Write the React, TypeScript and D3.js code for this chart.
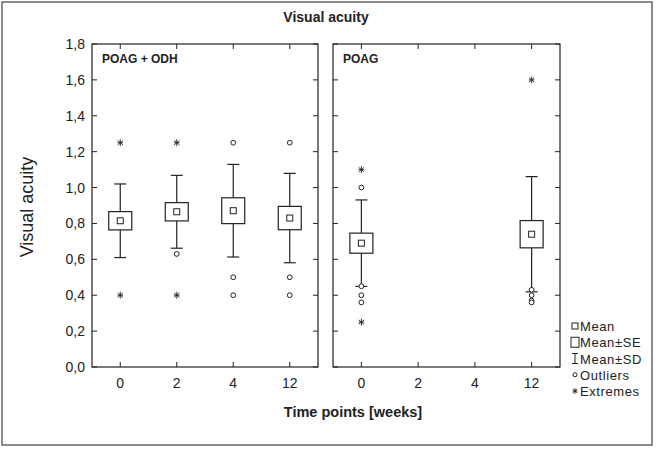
import React from 'react';
import * as d3 from 'd3';

// time points (weeks)
const categories = ['0', '2', '4', '12'];
const yTicks = [0, 0.2, 0.4, 0.6, 0.8, 1.0, 1.2, 1.4, 1.6, 1.8];

// POAG + ODH
const odhMean = [0.815, 0.865, 0.871, 0.83];
const odhSE = [0.051, 0.051, 0.072, 0.065];
const odhSD = [0.205, 0.203, 0.258, 0.249];
const odhOutliers = [[], [0.63], [1.25, 0.5, 0.4], [1.25, 0.5, 0.4]];
const odhExtremes = [[1.25, 0.4], [1.25, 0.4], [], []];

// POAG (only weeks 0 and 12 measured)
const poagMean = [0.69, null, null, 0.74];
const poagSE = [0.056, null, null, 0.076];
const poagSD = [0.241, null, null, 0.321];
const poagOutliers = [[1.0, 0.45, 0.4, 0.36], [], [], [0.43, 0.4, 0.37, 0.36]];
const poagExtremes = [[1.1, 0.25], [], [], [1.6]];

const legendItems = ['Mean', 'Mean\u00b1SE', 'Mean\u00b1SD', 'Outliers', 'Extremes'];

const W = 660, H = 450;
const top = 44, bottom = 367;
const font = '"Liberation Sans", Arial, sans-serif';
const ink = '#222';

const y = d3.scaleLinear().domain([0, 1.8]).range([bottom, top]);

// "extreme" marker: vertical bar crossed by an x
function Star({ cx, cy, r = 3.5 }: { cx: number; cy: number; r?: number }) {
  const arms = [90, 40, -40].map(a => {
    const t = (a * Math.PI) / 180;
    return [Math.cos(t) * r, Math.sin(t) * r];
  });
  return (
    <g stroke={ink} strokeWidth={0.9}>
      {arms.map(([dx, dy], i) => (
        <line key={i} x1={cx - dx} y1={cy - dy} x2={cx + dx} y2={cy + dy} />
      ))}
      <line x1={cx - r * 0.8} x2={cx + r * 0.8} y1={cy} y2={cy} />
    </g>
  );
}

function Panel(props: {
  x0: number; x1: number; label: string;
  mean: (number | null)[]; se: (number | null)[]; sd: (number | null)[];
  outliers: number[][]; extremes: number[][]; leftLabels: boolean;
}) {
  const { x0, x1, label, mean, se, sd, outliers, extremes, leftLabels } = props;
  const x = d3.scaleBand().domain(categories).range([x0, x1]);
  const cx = (c: string) => (x(c) as number) + x.bandwidth() / 2;
  const tk = 5;
  const boxW = 23, capW = 12, ms = 6;

  return (
    <g>
      <rect x={x0} y={top} width={x1 - x0} height={bottom - top} fill="none" stroke={ink} strokeWidth={1.2} />
      {yTicks.map(t => (
        <g key={t}>
          <line x1={x0} x2={x0 + tk} y1={y(t)} y2={y(t)} stroke={ink} />
          <line x1={x1} x2={x1 - tk} y1={y(t)} y2={y(t)} stroke={ink} />
          {leftLabels && (
            <text x={x0 - 7} y={y(t) + 5} textAnchor="end" fontSize={14} fontFamily={font} fill={ink}>
              {d3.format('.1f')(t).replace('.', ',')}
            </text>
          )}
        </g>
      ))}
      {categories.map(c => (
        <g key={c}>
          <line x1={cx(c)} x2={cx(c)} y1={bottom} y2={bottom - tk} stroke={ink} />
          <line x1={cx(c)} x2={cx(c)} y1={top} y2={top + tk} stroke={ink} />
          <text x={cx(c)} y={388} textAnchor="middle" fontSize={14} fontFamily={font} fill={ink}>{c}</text>
        </g>
      ))}
      <text x={x0 + 10} y={63} fontSize={12} fontWeight="bold" fontFamily={font} fill={ink}>{label}</text>
      {categories.map((c, i) => {
        const m = mean[i];
        const s = se[i] as number;
        const d = sd[i] as number;
        const px = cx(c);
        return (
          <g key={c}>
            {m !== null && (
              <g stroke={ink} strokeWidth={1.2} fill="white">
                <line x1={px} x2={px} y1={y(m + d)} y2={y(m - d)} />
                <line x1={px - capW / 2} x2={px + capW / 2} y1={y(m + d)} y2={y(m + d)} />
                <line x1={px - capW / 2} x2={px + capW / 2} y1={y(m - d)} y2={y(m - d)} />
                <rect x={px - boxW / 2} y={y(m + s)} width={boxW} height={y(m - s) - y(m + s)} />
                <rect x={px - ms / 2} y={y(m) - ms / 2} width={ms} height={ms} strokeWidth={1} />
              </g>
            )}
            {outliers[i].map((v, j) => (
              <circle key={'o' + j} cx={px} cy={y(v)} r={2.4} fill="white" stroke={ink} strokeWidth={1} />
            ))}
            {extremes[i].map((v, j) => (
              <Star key={'e' + j} cx={px} cy={y(v)} />
            ))}
          </g>
        );
      })}
    </g>
  );
}

export default function App() {
  const ly = d3.scalePoint().domain(legendItems).range([326, 391]);
  const lx = 575;
  return (
    <svg width={W} height={H} style={{ position: 'absolute', left: 0, top: 0, background: 'white' }}>
      <rect x={2} y={2} width={650} height={443} fill="white" stroke="#666" strokeWidth={1.5} />
      <text x={326} y={22} textAnchor="middle" fontSize={14} fontWeight="bold" fontFamily={font} fill={ink}>
        Visual acuity
      </text>
      <text transform={`translate(33,207) rotate(-90)`} textAnchor="middle" fontSize={18} fontFamily={font} fill={ink}>
        Visual acuity
      </text>
      <text x={353} y={417} textAnchor="middle" fontSize={14.5} fontWeight="bold" fontFamily={font} fill={ink}>
        Time points [weeks]
      </text>
      <Panel x0={92} x1={318} label="POAG + ODH" mean={odhMean} se={odhSE} sd={odhSD}
        outliers={odhOutliers} extremes={odhExtremes} leftLabels={true} />
      <Panel x0={333} x1={560} label="POAG" mean={poagMean} se={poagSE} sd={poagSD}
        outliers={poagOutliers} extremes={poagExtremes} leftLabels={false} />
      <g fontFamily={font} fontSize={13} fill={ink} letterSpacing={0.6}>
        {legendItems.map(k => (
          <text key={k} x={lx + 5} y={(ly(k) as number) + 5}>{k}</text>
        ))}
        <rect x={lx - 3} y={(ly('Mean') as number) - 3} width={6} height={6} fill="white" stroke={ink} />
        <rect x={lx - 4} y={(ly('Mean\u00b1SE') as number) - 5} width={8} height={10} fill="white" stroke={ink} />
        <g stroke={ink}>
          <line x1={lx} x2={lx} y1={(ly('Mean\u00b1SD') as number) - 5} y2={(ly('Mean\u00b1SD') as number) + 5} />
          <line x1={lx - 3} x2={lx + 3} y1={(ly('Mean\u00b1SD') as number) - 5} y2={(ly('Mean\u00b1SD') as number) - 5} />
          <line x1={lx - 3} x2={lx + 3} y1={(ly('Mean\u00b1SD') as number) + 5} y2={(ly('Mean\u00b1SD') as number) + 5} />
        </g>
        <circle cx={lx} cy={ly('Outliers') as number} r={2} fill="white" stroke={ink} />
        <Star cx={lx} cy={ly('Extremes') as number} r={3} />
      </g>
    </svg>
  );
}
